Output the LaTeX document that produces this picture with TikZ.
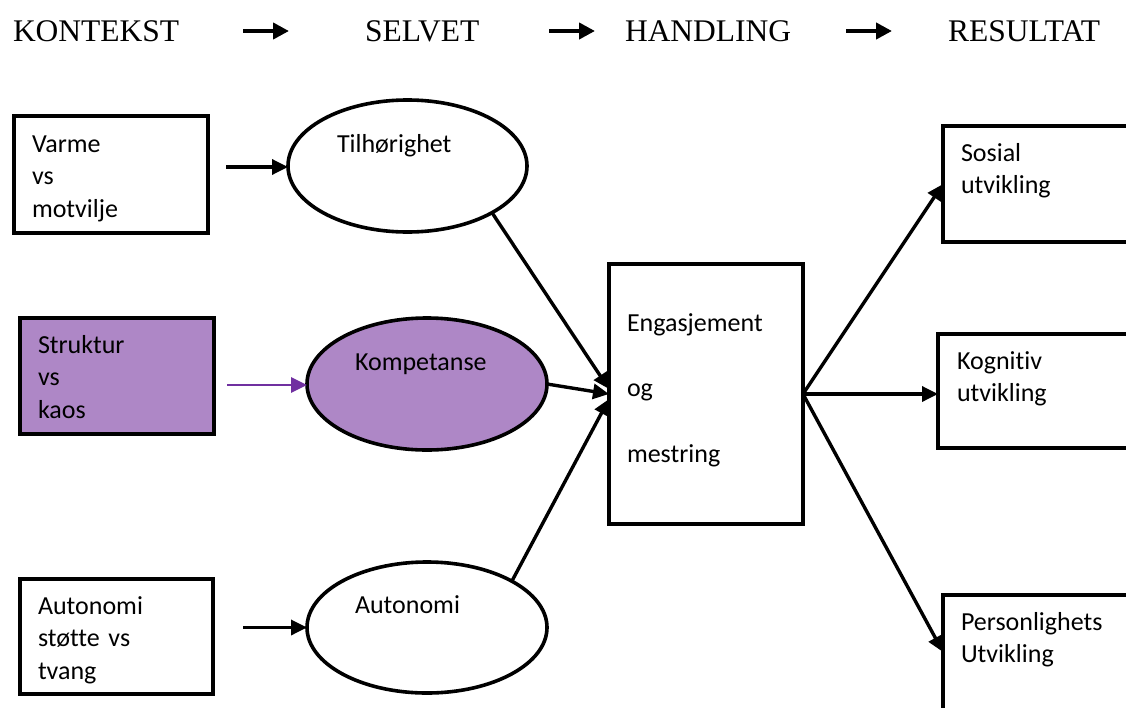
\documentclass[tikz,border=0pt]{standalone}
\usepackage{fontspec}
\setmainfont{Carlito}[Ligatures=NoCommon]
\newfontfamily\headfont{Liberation Serif}
\usetikzlibrary{arrows.meta,calc,shapes.geometric}
\definecolor{lilac}{RGB}{174,135,198}
\definecolor{plum}{RGB}{112,48,160}
\begin{document}
\begin{tikzpicture}[x=1pt,y=-1pt,
  every node/.style={inner sep=0pt,outer sep=0pt},
  framebox/.style={draw,line width=3.6pt,rectangle,minimum width=#1},
  oval/.style={draw,line width=3.6pt,ellipse,minimum width=240pt,minimum height=132pt},
  txt/.style={anchor=base west,align=left,text width=#1,
    font=\fontsize{26}{32.5}\selectfont},
  head/.style={anchor=base west,font=\headfont\fontsize{31.5}{36}\selectfont},
  conn/.style={line width=3.4pt,-{Triangle[length=16pt,width=15pt]}},
  headarrow/.style={line width=4.5pt,-{Triangle[length=16pt,width=16pt]}}
]
\clip (0,0) rectangle (1126,707);
\fill[white] (0,0) rectangle (1126,707);

% column headings
\node[head] (kon) at (13,41) {KONTEKST};
\node[head] (sel) at (365,41) {SELVET};
\node[head] (han) at (625,41) {HANDLING};
\node[head] (res) at (948,41) {RESULTAT};
\coordinate (a1s) at (243,31); \coordinate (a1e) at (289,31);
\coordinate (a2s) at (549,31); \coordinate (a2e) at (595,31);
\coordinate (a3s) at (846,31); \coordinate (a3e) at (892,31);
\draw[headarrow] (a1s) -- (a1e);
\draw[headarrow] (a2s) -- (a2e);
\draw[headarrow] (a3s) -- (a3e);

% context boxes
\node[framebox=194pt,minimum height=117pt] (varme) at (111,174.5) {};
\node[framebox=194pt,minimum height=116pt,fill=lilac] (struktur) at (117,376) {};
\node[framebox=193pt,minimum height=115pt] (autbox) at (116.5,636.5) {};
\node[txt=170pt] (varmeT) at (32,152) {Varme\\vs\\motvilje};
\node[txt=170pt] (strukturT) at (38,353) {Struktur\\vs\\kaos};
\node[txt=170pt] (autboxT) at (38,614) {Autonomi\\støtte vs\\tvang};

% the self
\node[oval,minimum width=239pt] (tilh) at (407.5,166) {};
\node[oval,fill=lilac] (komp) at (427,384) {};
\node[oval,minimum height=131pt] (autel) at (427,627.5) {};
\node[txt=150pt] (tilhT) at (337,152) {Tilhørighet};
\node[txt=150pt] (kompT) at (355,370) {Kompetanse};
\node[txt=150pt] (autelT) at (355,613) {Autonomi};

% action
\node[framebox=194pt,minimum height=260pt] (eng) at (706,394) {};
\node[txt=170pt,font=\fontsize{26}{65.5}\selectfont] (engT) at (627,331)
  {Engasjement\\og\\mestring};

% outcomes
\node[framebox=217pt,minimum height=116pt] (sos) at (1051.5,184) {};
\node[framebox=222pt,minimum height=114pt] (kog) at (1049,391) {};
\node[framebox=217pt,minimum height=165pt] (pers) at (1051.5,677.5) {};
\node[txt=160pt] (sosT) at (961,161) {Sosial\\utvikling};
\node[txt=160pt] (kogT) at (957,369) {Kognitiv\\utvikling};
\node[txt=160pt] (persT) at (961,630) {Personlighets\\Utvikling};

% connectors
\draw[conn] ($(varme.east |- tilh.west)+(18,1)$) -- ([yshift=-1pt]tilh.west);
\draw[conn,plum,line width=2.8pt] ($(struktur.east |- komp.west)+(13,1)$) -- ([yshift=-1pt]komp.west);
\draw[conn] ($(autbox.east |- autel.west)+(30,0)$) -- (autel.west);

\draw[conn] (tilh.south east) -- ([yshift=5pt]eng.west);
\draw[conn] (komp.east) -- (eng.west);
\draw[conn] (autel.north east) -- ([yshift=-5pt]eng.west);

\draw[conn] (eng.east) -- (sos.west);
\draw[conn] (eng.east) -- (eng.east -| kog.west);
\draw[conn] (eng.east) -- ($(pers.north west)+(0,57)$);
\end{tikzpicture}
\end{document}
